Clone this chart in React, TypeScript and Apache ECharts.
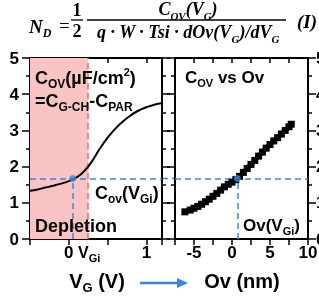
import React, { useEffect, useRef } from "react";
import * as echarts from "echarts";

// Left panel: C_OV vs V_G
const vgValues = [-0.5, -0.4, -0.3, -0.2, -0.1, 0, 0.1, 0.2, 0.3, 0.4, 0.5, 0.6, 0.7, 0.8, 0.9, 1.0, 1.1, 1.2];
const covVg = [1.33, 1.37, 1.42, 1.47, 1.53, 1.6, 1.7, 1.88, 2.15, 2.5, 2.8, 3.05, 3.25, 3.42, 3.55, 3.64, 3.71, 3.75];
// Right panel: C_OV vs Ov
const ovValues = [-6.2, -5.5, -5, -4.5, -4, -3.5, -3, -2.5, -2, -1.5, -1, -0.5, 0, 0.5, 1, 1.5, 2, 2.5, 3, 3.5, 4, 4.5, 5, 5.5, 6, 6.5, 7, 7.5, 7.8];
const covOv = [0.75, 0.8, 0.85, 0.9, 0.96, 1.03, 1.1, 1.18, 1.26, 1.35, 1.44, 1.51, 1.57, 1.64, 1.73, 1.84, 1.95, 2.06, 2.17, 2.29, 2.4, 2.51, 2.61, 2.71, 2.8, 2.9, 3.0, 3.1, 3.17];

// tick labels
const leftXTicks = [0, 1];
const rightXTicks = [-5, 0, 5, 10];
const yTicks = [0, 1, 2, 3, 4, 5];

const depletionEnd = 0.25;
const vgi = 0.05;
const covVgi = 1.67;
const ovVgi = 0.7;

const BLUE = "#3a84e6";
const RED = "#f0474f";
const SANS = "Liberation Sans";
const SERIF = "Liberation Serif";

function makeAxis(grid: number, pos: string, min: number, max: number, interval: number, inside: boolean, minor: boolean) {
  return {
    type: "value",
    gridIndex: grid,
    position: pos,
    min: min,
    max: max,
    interval: interval,
    axisLine: { show: true, onZero: false, lineStyle: { color: "#000000", width: 2 } },
    splitLine: { show: false },
    axisTick: { show: true, inside: inside, length: inside ? 5 : minor ? 8 : 6, lineStyle: { color: "#000000", width: 1.5 } },
    minorTick: { show: minor, splitNumber: 2, length: 4, lineStyle: { color: "#000000", width: 1.5 } },
    minorSplitLine: { show: false },
    axisLabel: { show: false },
  };
}

export default function App() {
  const ref = useRef<HTMLDivElement>(null);
  useEffect(() => {
    const chart = echarts.init(ref.current!, null, { renderer: "svg" });
    const dash = { type: [6, 4] as any, width: 1.5 };

    const sub = (size: number, color = "#000", weight = "bold", family = SANS, style = "normal") => ({
      fontSize: size, lineHeight: size, verticalAlign: "bottom", color, fontWeight: weight, fontFamily: family, fontStyle: style,
    });
    const main = (size: number, color = "#000", weight = "bold", family = SANS, style = "normal") => ({
      fontSize: size, lineHeight: size + 6, verticalAlign: "middle", color, fontWeight: weight, fontFamily: family, fontStyle: style,
    });
    const sup = (size: number, color = "#000") => ({
      fontSize: size, lineHeight: size, verticalAlign: "top", color, fontWeight: "bold", fontFamily: SANS,
    });
    const txt = (x: number, y: number, text: string, rich: any, align = "left") => ({
      type: "text", x, y, style: { text, rich, align, verticalAlign: "middle" }, z: 100,
    });
    const plain = (x: number, y: number, text: string, align: string) => ({
      type: "text", x, y, z: 100,
      style: { text, align, verticalAlign: "middle", fill: "#000", fontSize: 17, fontWeight: "bold", fontFamily: SANS },
    });
    const fm = (s: number) => main(s, "#000", "bold", SERIF, "italic");
    const fs = (s: number) => sub(s, "#000", "bold", SERIF, "italic");

    const graphics: any[] = [
      // formula
      txt(29, 26, "{m|N}{s|D}", { m: fm(19), s: fs(12) }),
      txt(59, 25, "{m|=}", { m: main(19, "#000", "normal", SERIF) }),
      txt(77, 10, "{m|1}", { m: main(18, "#000", "bold", SERIF) }, "center"),
      txt(77, 31, "{m|2}", { m: main(18, "#000", "bold", SERIF) }, "center"),
      { type: "line", shape: { x1: 71, y1: 20, x2: 83, y2: 20 }, style: { stroke: "#000", lineWidth: 1.3 } },
      { type: "line", shape: { x1: 87, y1: 20, x2: 286, y2: 20 }, style: { stroke: "#000", lineWidth: 1.3 } },
      txt(188, 9, "{m|C}{s|OV}{m|(V}{s|G}{m|)}", { m: fm(18), s: fs(11) }, "center"),
      txt(188, 32, "{m|q · W · Tsi · dOv(V}{s|G}{m|)/dV}{s|G}", { m: fm(18), s: fs(11) }, "center"),
      txt(297, 21, "{m|(I)}", { m: fm(19) }),
      // left panel texts
      txt(35, 78, "{m|C}{s|OV}{m|(µF/cm}{p|2}{m|)}", { m: main(18), s: sub(12), p: sup(11) }),
      txt(35, 101, "{m|=C}{s|G-CH}{m|-C}{s|PAR}", { m: main(18), s: sub(12) }),
      txt(95, 193, "{m|C}{s|ov}{m|(V}{s|Gi}{m|)}", { m: main(18, BLUE), s: sub(12, BLUE) }),
      txt(35, 226, "{m|Depletion}", { m: main(18, RED) }),
      txt(78, 252, "{m|V}{s|Gi}", { m: main(16, BLUE), s: sub(11, BLUE) }),
      // right panel texts
      txt(185, 77, "{m|C}{s|OV}{m| vs Ov}", { m: main(17), s: sub(11) }),
      txt(243, 225, "{m|Ov(V}{s|Gi}{m|)}", { m: main(17, BLUE), s: sub(11, BLUE) }),
      // axis titles
      txt(97, 281, "{m|V}{s|G}{m| (V)}", { m: main(20), s: sub(13) }, "center"),
      txt(242, 281, "{m|Ov (nm)}", { m: main(20) }, "center"),
      // arrow
      { type: "line", shape: { x1: 140, y1: 283, x2: 180, y2: 283 }, style: { stroke: BLUE, lineWidth: 2.5 } },
      { type: "polygon", shape: { points: [[177, 278], [188, 283], [177, 288]] }, style: { fill: BLUE } },
    ];

    const option: any = {
      animation: false,
      grid: [
        { left: 30, top: 58, width: 132, height: 181 },
        { left: 175, top: 58, width: 133, height: 181 },
      ],
      xAxis: [
        makeAxis(0, "bottom", -0.5, 1.2, 0.5, false, false),
        makeAxis(0, "top", -0.5, 1.2, 0.5, true, false),
        makeAxis(1, "bottom", -7.5, 10, 2.5, false, false),
        makeAxis(1, "top", -7.5, 10, 2.5, true, false),
      ],
      yAxis: [
        makeAxis(0, "left", 0, 5, 1, false, true),
        makeAxis(0, "right", 0, 5, 1, false, true),
        makeAxis(1, "left", 0, 5, 1, false, true),
        makeAxis(1, "right", 0, 5, 1, false, true),
      ],
      series: [
        {
          type: "line", xAxisIndex: 0, yAxisIndex: 0, smooth: true, symbol: "none",
          data: vgValues.map((v, i) => [v, covVg[i]]),
          lineStyle: { color: "#000", width: 2 }, z: 5,
          markArea: { silent: true, itemStyle: { color: "#fac4c4" }, data: [[{ xAxis: -0.5 }, { xAxis: depletionEnd }]] },
          markLine: {
            silent: true, symbol: ["none", "none"], label: { show: false },
            data: [
              { xAxis: depletionEnd, lineStyle: { color: "#f26a6a", ...dash } },
              { yAxis: covVgi, lineStyle: { color: BLUE, ...dash } },
              [{ coord: [vgi, 0], lineStyle: { color: BLUE, ...dash } }, { coord: [vgi, covVgi] }],
            ],
          },
        },
        {
          type: "scatter", xAxisIndex: 0, yAxisIndex: 0, symbolSize: 7,
          data: [[vgi, covVgi]], itemStyle: { color: BLUE }, z: 10,
        },
        {
          type: "line", xAxisIndex: 2, yAxisIndex: 2, symbol: "rect", symbolSize: 7,
          data: ovValues.map((v, i) => [v, covOv[i]]),
          lineStyle: { color: "#000", width: 5 }, itemStyle: { color: "#000" }, z: 5,
          markLine: {
            silent: true, symbol: ["none", "none"], label: { show: false },
            data: [
              { yAxis: covVgi, lineStyle: { color: BLUE, ...dash } },
              [{ coord: [ovVgi, 0], lineStyle: { color: BLUE, ...dash } }, { coord: [ovVgi, covVgi] }],
            ],
          },
        },
        {
          type: "scatter", xAxisIndex: 2, yAxisIndex: 2, symbolSize: 7,
          data: [[ovVgi, covVgi]], itemStyle: { color: BLUE }, z: 10,
        },
      ],
    };
    chart.setOption(option);

    // tick labels and the connector, placed through the chart's own scales
    const extra: any[] = [];
    const px = (grid: number, x: number, y: number) =>
      chart.convertToPixel({ gridIndex: grid } as any, [x, y]) as unknown as number[];
    leftXTicks.forEach((t) => {
      const p = px(0, t, 0);
      if (p) extra.push(plain(p[0], p[1] + 13, String(t), "center"));
    });
    rightXTicks.forEach((t) => {
      const p = px(1, t, 0);
      if (p) extra.push(plain(p[0], p[1] + 13, String(t), "center"));
    });
    yTicks.forEach((t) => {
      const a = px(0, -0.5, t);
      if (a) extra.push(plain(a[0] - 11, a[1], String(t), "right"));
      const b = px(1, 10, t);
      if (b) extra.push(plain(b[0] + 8, b[1], String(t), "left"));
    });
    const p1 = px(0, 1.2, covVgi);
    const p2 = px(1, -7.5, covVgi);
    if (p1 && p2) {
      extra.push({ type: "line", shape: { x1: p1[0], y1: p1[1], x2: p2[0], y2: p2[1] }, style: { stroke: BLUE, lineWidth: 1.5, lineDash: [6, 4] } });
    }
    chart.setOption({ graphic: [...graphics, ...extra] });
    return () => chart.dispose();
  }, []);
  return <div ref={ref} style={{ position: "fixed", left: 0, top: 0, width: 319, height: 297 }} />;
}
